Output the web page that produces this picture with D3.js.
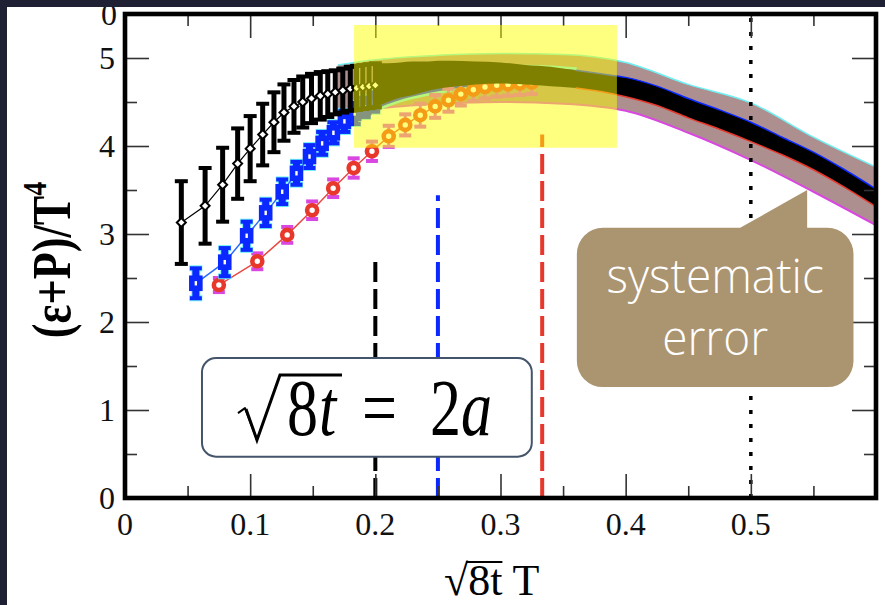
<!DOCTYPE html>
<html lang="en">
<head>
<meta charset="UTF-8" />
<title>(ε+P)/T4 vs √8t T</title>
<script src="https://d3js.org/d3.v7.min.js"></script>
<style>
  body { margin: 0; background: #fff; }
  svg { display: block; }
</style>
</head>
<body>
<svg id="chart" width="885" height="605"></svg>
<script>
// ---------------------------------------------------------------
// data  [x, y, err]
// ---------------------------------------------------------------
const blackPts = [
  [0.045, 3.13, 0.47], [0.064, 3.32, 0.43], [0.078, 3.56, 0.42], [0.090, 3.80, 0.40],
  [0.100, 3.97, 0.37], [0.110, 4.13, 0.35], [0.119, 4.27, 0.34], [0.127, 4.38, 0.32],
  [0.135, 4.45, 0.30], [0.142, 4.50, 0.29], [0.149, 4.54, 0.28], [0.156, 4.57, 0.27],
  [0.162, 4.59, 0.26], [0.168, 4.61, 0.25], [0.174, 4.63, 0.25], [0.180, 4.65, 0.25],
  [0.185, 4.66, 0.25], [0.190, 4.67, 0.25], [0.195, 4.68, 0.25], [0.200, 4.69, 0.25]
];
const blackBand = [
  [0.200, 4.69, 0.25], [0.210, 4.72, 0.22], [0.220, 4.75, 0.20], [0.230, 4.77, 0.19],
  [0.240, 4.79, 0.17], [0.250, 4.81, 0.16], [0.260, 4.82, 0.15], [0.280, 4.83, 0.13],
  [0.300, 4.83, 0.12], [0.320, 4.81, 0.11], [0.340, 4.79, 0.11], [0.360, 4.76, 0.10],
  [0.380, 4.72, 0.10], [0.400, 4.67, 0.11], [0.425, 4.57, 0.11], [0.450, 4.43, 0.11],
  [0.475, 4.30, 0.11], [0.500, 4.16, 0.11], [0.525, 4.00, 0.10], [0.550, 3.83, 0.10],
  [0.575, 3.63, 0.10], [0.600, 3.41, 0.10]
];
const bluePts = [
  [0.0566, 2.44, 0.17], [0.0797, 2.68, 0.16], [0.0972, 2.98, 0.16], [0.1124, 3.24, 0.15],
  [0.1256, 3.48, 0.14], [0.137, 3.69, 0.13], [0.1474, 3.88, 0.13], [0.1575, 4.03, 0.13],
  [0.1665, 4.15, 0.12], [0.1753, 4.28, 0.12], [0.1835, 4.37, 0.12], [0.1915, 4.44, 0.11],
  [0.199, 4.50, 0.11]
];
const blueBand = [
  [0.199, 4.50, 0.11], [0.210, 4.56, 0.10], [0.220, 4.61, 0.10], [0.240, 4.68, 0.10],
  [0.260, 4.73, 0.10], [0.280, 4.77, 0.10], [0.300, 4.80, 0.10], [0.320, 4.81, 0.10],
  [0.340, 4.80, 0.10], [0.360, 4.78, 0.10]
];
const redPts = [
  [0.075, 2.42, 0.08], [0.1057, 2.69, 0.09], [0.1296, 2.99, 0.09], [0.1495, 3.27, 0.10],
  [0.1663, 3.52, 0.10], [0.1827, 3.75, 0.11], [0.1973, 3.94, 0.11], [0.2107, 4.11, 0.12],
  [0.2239, 4.24, 0.12], [0.2359, 4.35, 0.13], [0.2478, 4.45, 0.13], [0.2584, 4.52, 0.13],
  [0.2683, 4.59, 0.13], [0.2783, 4.64, 0.13], [0.2876, 4.67, 0.13], [0.297, 4.69, 0.13],
  [0.306, 4.70, 0.13], [0.3155, 4.71, 0.13], [0.325, 4.72, 0.13]
];
// systematic error band [x, lo, hi]
const sysBand = [
  [0.170, 4.35, 4.92], [0.200, 4.42, 4.98], [0.250, 4.48, 5.03], [0.300, 4.50, 5.05],
  [0.350, 4.48, 5.04], [0.400, 4.40, 4.95], [0.450, 4.15, 4.70], [0.500, 3.84, 4.49],
  [0.550, 3.48, 4.10], [0.600, 3.10, 3.76]
];
// vertical marker lines
const vLines = [
  { x: 0.2, top: 2.74, color: "#000", dash: "20,7", w: 4 },
  { x: 0.25, top: 3.44, color: "#0a28ff", dash: "20,7", w: 4 },
  { x: 0.3333, top: 4.13, color: "#e8382c", dash: "20,7", w: 4 },
  { x: 0.5, top: 5.5, color: "#000", dash: "4,10", w: 3.5 }
];
const xMajor = [0, 0.1, 0.2, 0.3, 0.4, 0.5];
const xMinor = [0.05, 0.15, 0.25, 0.35, 0.45, 0.55];
const yMajor = [0, 1, 2, 3, 4, 5];
const yMinor = [0.5, 1.5, 2.5, 3.5, 4.5];
const xTickLabels = ["0", "0.1", "0.2", "0.3", "0.4", "0.5"];

// highlighted region and annotation boxes (data units)
const highlight = { x0: 0.183, x1: 0.393, y0: 3.98, y1: 5.375 };
const formulaBox = { x0: 0.0615, x1: 0.325, y0: 0.47, y1: 1.59 };
const callout = { x0: 0.361, x1: 0.582, y0: 1.26, y1: 3.07, tipX: 0.545, tipY: 3.5, baseX: 0.4915 };

// ---------------------------------------------------------------
const svg = d3.select("#chart");
const W = +svg.attr("width"), H = +svg.attr("height");
const margin = { top: 14, right: 9, bottom: 107, left: 125 };
const iw = W - margin.left - margin.right;
const ih = H - margin.top - margin.bottom;

svg.append("rect").attr("width", W).attr("height", H).attr("fill", "#fff");

const g = svg.append("g").attr("transform", `translate(${margin.left},${margin.top})`);

const x = d3.scaleLinear().domain([0, 0.6]).range([0, iw]);
const y = d3.scaleLinear().domain([0, 5.5]).range([ih, 0]);

const serif = "'Liberation Serif', 'Times New Roman', serif";

// systematic band
g.append("path").datum(sysBand)
  .attr("fill", "#ae8f8f")
  .attr("d", d3.area().curve(d3.curveMonotoneX).x(d => x(d[0])).y0(d => y(d[1])).y1(d => y(d[2])));
g.append("path").datum(sysBand).attr("fill", "none").attr("stroke", "#6ff0f4").attr("stroke-width", 1.5)
  .attr("d", d3.line().curve(d3.curveMonotoneX).x(d => x(d[0])).y(d => y(d[2])));
g.append("path").datum(sysBand).attr("fill", "none").attr("stroke", "#d848e0").attr("stroke-width", 2)
  .attr("d", d3.line().curve(d3.curveMonotoneX).x(d => x(d[0])).y(d => y(d[1])));

// blue dense part
g.append("path").datum(blueBand)
  .attr("fill", "#0a28ff").attr("stroke", "#6ff0f4").attr("stroke-width", 2.5)
  .attr("d", d3.area().curve(d3.curveMonotoneX).x(d => x(d[0])).y0(d => y(d[1] - d[2])).y1(d => y(d[1] + d[2])));

function errorBars(sel, pts, col, lineW, capCol, capW, capH) {
  const eg = sel.append("g");
  eg.selectAll("line").data(pts).join("line")
    .attr("x1", d => x(d[0])).attr("x2", d => x(d[0]))
    .attr("y1", d => y(d[1] - d[2])).attr("y2", d => y(d[1] + d[2]))
    .attr("stroke", col).attr("stroke-width", lineW);
  eg.selectAll("rect.top").data(pts).join("rect").attr("class", "top")
    .attr("x", d => x(d[0]) - capW / 2).attr("y", d => y(d[1] + d[2]) - capH / 2)
    .attr("width", capW).attr("height", capH).attr("fill", capCol);
  eg.selectAll("rect.bot").data(pts).join("rect").attr("class", "bot")
    .attr("x", d => x(d[0]) - capW / 2).attr("y", d => y(d[1] - d[2]) - capH / 2)
    .attr("width", capW).attr("height", capH).attr("fill", capCol);
}

const line = d3.line().x(d => x(d[0])).y(d => y(d[1]));

// red series
errorBars(g, redPts, "#d848e0", 3, "#d848e0", 12, 4);
g.append("path").datum(redPts).attr("fill", "none").attr("stroke", "#e84a44").attr("stroke-width", 1.5).attr("d", line);
g.append("g").selectAll("circle").data(redPts).join("circle")
  .attr("cx", d => x(d[0])).attr("cy", d => y(d[1])).attr("r", 5)
  .attr("fill", "#fff").attr("stroke", "#e8382c").attr("stroke-width", 4.6);

// blue series
errorBars(g, bluePts, "#6ff0f4", 9, "#6ff0f4", 13, 6);
errorBars(g, bluePts, "#0a28ff", 7, "#0a28ff", 12, 4);
g.append("path").datum(bluePts).attr("fill", "none").attr("stroke", "#2a6cff").attr("stroke-width", 1.5).attr("d", line);
g.append("g").selectAll("rect").data(bluePts).join("rect")
  .attr("x", d => x(d[0]) - 4).attr("y", d => y(d[1]) - 5).attr("width", 8).attr("height", 10)
  .attr("fill", "#fff").attr("stroke", "#0a28ff").attr("stroke-width", 5.6);

// black dense band
g.append("path").datum(blackBand)
  .attr("fill", "#000")
  .attr("d", d3.area().curve(d3.curveMonotoneX).x(d => x(d[0])).y0(d => y(d[1] - d[2])).y1(d => y(d[1] + d[2])));
g.append("path").datum(blackBand.filter(d => d[0] >= 0.36)).attr("fill", "none").attr("stroke", "#0a28ff").attr("stroke-width", 1.5)
  .attr("d", d3.line().curve(d3.curveMonotoneX).x(d => x(d[0])).y(d => y(d[1] + d[2])));
g.append("path").datum(blackBand.filter(d => d[0] >= 0.36)).attr("fill", "none").attr("stroke", "#e8382c").attr("stroke-width", 1.5)
  .attr("d", d3.line().curve(d3.curveMonotoneX).x(d => x(d[0])).y(d => y(d[1] - d[2])));

// black discrete series
errorBars(g, blackPts, "#000", 5, "#000", 13, 4);
g.append("path").datum(blackPts).attr("fill", "none").attr("stroke", "#000").attr("stroke-width", 1.2).attr("d", line);
g.append("g").selectAll("path.dia").data(blackPts).join("path").attr("class", "dia")
  .attr("transform", d => `translate(${x(d[0])},${y(d[1])})`)
  .attr("d", "M0,-4.5L4.5,0L0,4.5L-4.5,0Z")
  .attr("fill", "#fff").attr("stroke", "#000").attr("stroke-width", 2);

// vertical reference lines
g.append("g").selectAll("line").data(vLines).join("line")
  .attr("x1", d => x(d.x)).attr("x2", d => x(d.x))
  .attr("y1", ih).attr("y2", d => y(d.top))
  .attr("stroke", d => d.color).attr("stroke-width", d => d.w)
  .attr("stroke-dasharray", d => d.dash);

// ticks (inward on all four sides)
function ticks(axisFn, vals, size, tr) {
  const a = g.append("g").attr("transform", tr)
    .call(axisFn.tickValues(vals).tickSize(-size).tickFormat(""));
  a.select(".domain").remove();
  a.selectAll("line").attr("stroke", "#333").attr("stroke-width", 1.6);
}
ticks(d3.axisBottom(x), xMajor, 24, `translate(0,${ih})`);
ticks(d3.axisBottom(x), xMinor, 12, `translate(0,${ih})`);
ticks(d3.axisTop(x), xMajor.concat([0.6]), 24, "translate(0,0)");
ticks(d3.axisTop(x), xMinor, 12, "translate(0,0)");
ticks(d3.axisLeft(y), yMajor, 24, "translate(0,0)");
ticks(d3.axisLeft(y), yMinor, 12, "translate(0,0)");
ticks(d3.axisRight(y), yMajor, 24, `translate(${iw},0)`);
ticks(d3.axisRight(y), yMinor, 12, `translate(${iw},0)`);

// yellow highlight
g.append("rect")
  .attr("x", x(highlight.x0)).attr("y", y(highlight.y1))
  .attr("width", x(highlight.x1) - x(highlight.x0)).attr("height", y(highlight.y0) - y(highlight.y1))
  .attr("fill", "#ffff00").attr("opacity", 0.5);

// frame
g.append("rect").attr("width", iw).attr("height", ih)
  .attr("fill", "none").attr("stroke", "#000").attr("stroke-width", 4.6);

// tick labels
g.append("g").selectAll("text").data(xMajor).join("text")
  .attr("x", d => x(d)).attr("y", ih + 37)
  .attr("text-anchor", "middle").attr("font-family", serif).attr("font-size", 32).attr("fill", "#111")
  .text((d, i) => xTickLabels[i]);
g.append("g").selectAll("text").data(yMajor).join("text")
  .attr("x", -10).attr("y", d => y(d)).attr("dy", "0.35em")
  .attr("text-anchor", "end").attr("font-family", serif).attr("font-size", 32).attr("fill", "#111")
  .text(d => d);
// stray label at the top edge of the figure (partly hidden, as in the source)
g.append("text").attr("x", -8).attr("y", 11).attr("text-anchor", "end")
  .attr("font-family", serif).attr("font-size", 32).attr("fill", "#111").text("0");

// axis titles
const yt = svg.append("text")
  .attr("transform", `translate(70,${margin.top + ih / 2 + 4}) rotate(-90) scale(0.82,1)`)
  .attr("text-anchor", "middle").attr("font-family", serif).attr("font-size", 54)
  .attr("font-weight", "bold").attr("fill", "#000");
yt.append("tspan").text("(ε+P)/T");
yt.append("tspan").attr("font-size", 34).attr("dy", -24).text("4");

const xt = svg.append("text")
  .attr("x", margin.left + x(0.293)).attr("y", 595)
  .attr("text-anchor", "middle").attr("font-family", serif).attr("font-size", 44).attr("fill", "#000");
xt.append("tspan").text("√");
const rad = xt.append("tspan").text("8t");
xt.append("tspan").text(" T");
const rb = rad.node().getBBox();
svg.append("line")
  .attr("x1", rb.x - 2).attr("x2", rb.x + rb.width)
  .attr("y1", rb.y + 6).attr("y2", rb.y + 6)
  .attr("stroke", "#000").attr("stroke-width", 2);

// formula box
const fbx = x(formulaBox.x0), fby = y(formulaBox.y1);
const fb = g.append("g").attr("transform", `translate(${fbx},${fby})`);
fb.append("rect")
  .attr("width", x(formulaBox.x1) - x(formulaBox.x0)).attr("height", y(formulaBox.y0) - y(formulaBox.y1))
  .attr("rx", 14).attr("fill", "#fff").attr("stroke", "#44546a").attr("stroke-width", 2);
// radical sign
fb.append("path").attr("d", "M36,55 L43,50 L55,82")
  .attr("fill", "none").attr("stroke", "#000").attr("stroke-width", 2).attr("stroke-linejoin", "round");
fb.append("path").attr("d", "M44,51 L55,82 L78,17 L140,17")
  .attr("fill", "none").attr("stroke", "#000").attr("stroke-width", 3);
const ft = fb.append("text")
  .attr("transform", "translate(0,77) scale(1,1.28)")
  .attr("font-family", serif).attr("font-size", 62).attr("fill", "#000");
ft.append("tspan").attr("x", 85).text("8");
ft.append("tspan").attr("x", 117).attr("font-style", "italic").text("t");
ft.append("tspan").attr("x", 160).text("=");
ft.append("tspan").attr("x", 228).text("2");
ft.append("tspan").attr("x", 259).attr("font-style", "italic").text("a");

// callout
const cx0 = x(callout.x0), cx1 = x(callout.x1), cy0 = y(callout.y1), cy1 = y(callout.y0);
const r = 26;
const p = d3.path();
p.moveTo(cx0 + r, cy0);
p.lineTo(x(callout.baseX), cy0);
p.lineTo(x(callout.tipX), y(callout.tipY));
p.lineTo(x(callout.tipX), cy0);
p.lineTo(cx1 - r, cy0);
p.arcTo(cx1, cy0, cx1, cy0 + r, r);
p.lineTo(cx1, cy1 - r);
p.arcTo(cx1, cy1, cx1 - r, cy1, r);
p.lineTo(cx0 + r, cy1);
p.arcTo(cx0, cy1, cx0, cy1 - r, r);
p.lineTo(cx0, cy0 + r);
p.arcTo(cx0, cy0, cx0 + r, cy0, r);
p.closePath();
g.append("path").attr("d", p.toString()).attr("fill", "#ab9470");
const ctx = (cx0 + cx1) / 2;
[["systematic", 65], ["error", 127]].forEach(([t, dy]) => {
  g.append("text")
    .attr("transform", `translate(${ctx},${cy0 + dy}) scale(1,1.05)`)
    .attr("text-anchor", "middle").attr("font-family", "'Open Sans', sans-serif").attr("font-weight", 300)
    .attr("font-size", 46).attr("fill", "#fff").text(t);
});

// dark slide border
svg.append("rect").attr("x", 0).attr("y", 0).attr("width", W).attr("height", 7).attr("fill", "#1f2034");
svg.append("rect").attr("x", 0).attr("y", 0).attr("width", 7).attr("height", H).attr("fill", "#1f2034");
</script>
</body>
</html>
